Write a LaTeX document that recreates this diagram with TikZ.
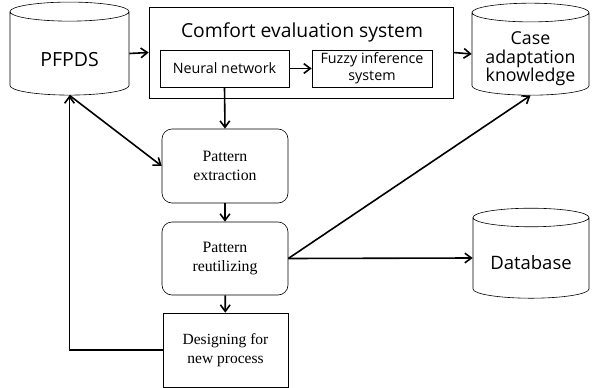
\documentclass[tikz,border=0pt]{standalone}
\usepackage{fontspec}
\setmainfont{Liberation Serif}
\setsansfont{Open Sans}
\usepackage{tikz}
\usetikzlibrary{arrows.meta,shapes.geometric,calc}

\begin{document}
\begin{tikzpicture}[x=1pt,y=-1pt,
  store/.style={cylinder,shape border rotate=90,draw,line width=0.6pt,aspect=0.16,
    inner sep=0pt,text width=#1,minimum width=#1},
  storetext/.style={align=center,inner sep=0pt,font=\sffamily\fontsize{18.5}{18.5}\selectfont},
  frame/.style={draw,line width=0.6pt,inner sep=0pt},
  sub/.style={frame,align=center,font=\sffamily\fontsize{14.3}{17}\selectfont},
  stage/.style={frame,rounded corners=10pt,align=center,font=\fontsize{15.8}{19}\selectfont},
  flow/.style={line width=1.6pt,-{Straight Barb[length=2.3mm,width=3.4mm]}}]
  \useasboundingbox (0,0) rectangle (595,388);

  % data stores
  \node[store=119pt,minimum height=93pt] (pfpds) at (69.5,53.5) {};
  \node[storetext,font=\sffamily\fontsize{19.5}{19.5}\selectfont] (pfpdstext) at ($(pfpds.center)+(0,6)$) {PFPDS};
  \node[store=117pt,minimum height=92pt] (case) at (530.5,54) {};
  \node[storetext,font=\sffamily\fontsize{17.8}{18.5}\selectfont] (casetext) at ($(case.center)+(0,5)$) {Case\\adaptation\\knowledge};
  \node[store=116pt,minimum height=90pt] (db) at (531,258) {};
  \node[storetext] (dbtext) at ($(db.center)+(0,5)$) {Database};

  % comfort evaluation system
  \node[frame,minimum width=304pt,minimum height=91pt] (comfort) at (301,52.5) {};
  \node[font=\sffamily\fontsize{19.3}{19}\selectfont] (title) at (302,32) {Comfort evaluation system};
  \node[sub,minimum width=129pt,minimum height=37pt] (nn) at (224.5,68.5) {Neural network};
  \node[sub,minimum width=120pt,minimum height=37pt] (fuzzy) at (372,68.5) {Fuzzy inference\\system};

  % pattern stages
  \node[stage,minimum width=126pt,minimum height=74pt] (extract) at (225,166) {Pattern\\extraction};
  \node[stage,minimum width=126pt,minimum height=73pt] (reuse) at (225,258.5) {Pattern\\reutilizing};
  \node[frame,minimum width=125pt,minimum height=74pt,align=center,
    font=\fontsize{15.5}{19}\selectfont] (design) at (225.5,350) {Designing for\\new process};

  \draw[flow] (pfpds.east) -- (comfort.west);
  \draw[flow] (nn) -- (fuzzy);
  \draw[flow] (comfort.east) -- (case.west);
  \draw[flow] (nn.south) -- (extract.north);
  \draw[flow] (extract) -- (reuse);
  \draw[flow] (reuse) -- (design);
  \draw[flow] (reuse.east) -- (db.west);
  \draw[flow] (reuse.east) -- (case.south);
  \draw[flow] (pfpds.south) -- (extract.west);
  \draw[flow] (design.west) -| (pfpds.south);
\end{tikzpicture}
\end{document}
